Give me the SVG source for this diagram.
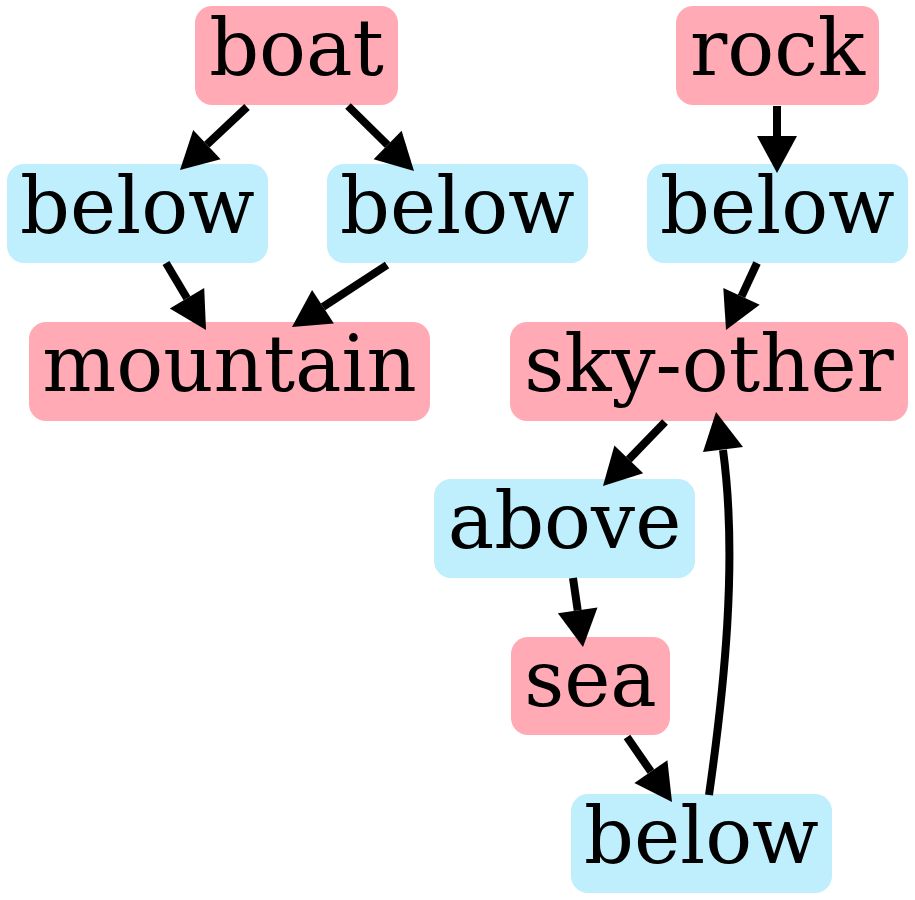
<svg xmlns="http://www.w3.org/2000/svg" width="915" height="900" viewBox="0 0 915 900">
<style>
.p{fill:#ffaab5}
.b{fill:#bfeefc}
text{font-family:"DejaVu Serif","Liberation Serif",serif;font-size:78px;fill:#000;text-anchor:middle}
.e line,.e path{stroke:#000;stroke-width:8;fill:none}
.e polygon{fill:#000;stroke:none}
</style>
<rect width="915" height="900" fill="#fff"/>
<g id="boat"><rect class="p" x="195" y="6" width="203" height="99" rx="17"/><text x="296.5" y="75">boat</text></g>
<g id="rock"><rect class="p" x="676" y="6" width="203" height="99" rx="17"/><text x="777.5" y="75">rock</text></g>
<g id="below1"><rect class="b" x="7" y="164" width="261" height="99" rx="17"/><text x="137.5" y="233">below</text></g>
<g id="below2"><rect class="b" x="327" y="164" width="261" height="99" rx="17"/><text x="457.5" y="233">below</text></g>
<g id="below3"><rect class="b" x="647" y="164" width="261" height="99" rx="17"/><text x="777.5" y="233">below</text></g>
<g id="mountain"><rect class="p" x="29" y="322" width="401" height="99" rx="17"/><text x="229.5" y="391">mountain</text></g>
<g id="sky-other"><rect class="p" x="510" y="322" width="398" height="99" rx="17"/><text x="709" y="391">sky-other</text></g>
<g id="above"><rect class="b" x="434" y="479" width="261" height="99" rx="17"/><text x="564.5" y="548">above</text></g>
<g id="sea"><rect class="p" x="511" y="637" width="159" height="98" rx="17"/><text x="590.5" y="706">sea</text></g>
<g id="below4"><rect class="b" x="571" y="794" width="261" height="99" rx="17"/><text x="701.5" y="863">below</text></g>
<g id="connectors" class="e">
<line x1="247" y1="107" x2="206.9" y2="144.7"/><polygon points="180,170 220.6,159.3 193.2,130.1"/>
<line x1="348" y1="106" x2="387.6" y2="145"/><polygon points="414,171 401.6,130.7 373.6,159.3"/>
<line x1="166" y1="263" x2="187" y2="298.2"/><polygon points="206,330 204.2,287.9 169.8,308.5"/>
<line x1="387" y1="265" x2="323" y2="306.8"/><polygon points="292,327 333.9,323.6 312.1,290"/>
<line x1="777" y1="106" x2="777" y2="136"/><polygon points="777,173 757,136 797,136"/>
<line x1="757" y1="263" x2="741.5" y2="296.4"/><polygon points="726,330 759.7,304.8 723.3,288"/>
<line x1="665" y1="422" x2="628.8" y2="459.4"/><polygon points="603,486 643.2,473.3 614.4,445.5"/>
<line x1="573" y1="578" x2="577.7" y2="610.4"/><polygon points="583,647 597.5,607.5 557.9,613.3"/>
<line x1="627" y1="737" x2="650.9" y2="771.6"/><polygon points="672,802 667.4,760.2 634.4,783"/>
<path d="M709,795 C724,690 738,560 723,450"/><polygon points="716,412 743,447 703,452"/>
</g>
</svg>
